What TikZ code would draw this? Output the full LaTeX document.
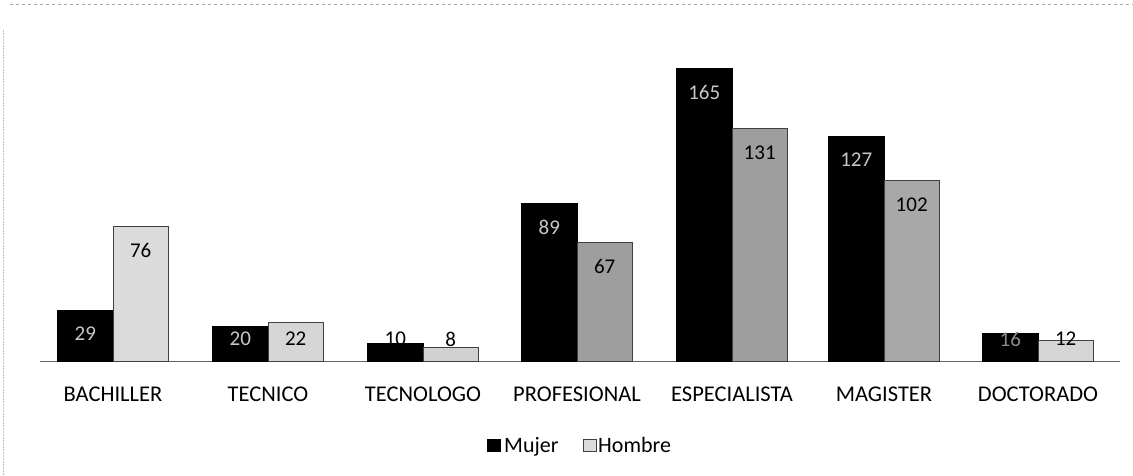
\documentclass[tikz,border=0pt]{standalone}
\usepackage{fontspec}
\setmainfont{Carlito}
\begin{document}
\begin{tikzpicture}[x=1pt,y=-1pt,
  mbar/.style={fill=black,draw=black,line width=0.6pt},
  hbar/.style={draw=black!75,line width=0.8pt},
  vlab/.style={font=\fontsize{21}{24}\selectfont,inner sep=0pt,anchor=center},
  catlab/.style={font=\fontsize{22.5}{26}\selectfont,inner sep=0pt,anchor=center},
  leglab/.style={font=\fontsize{22}{26}\selectfont,inner sep=0pt,anchor=base west}]
\useasboundingbox (0,0) rectangle (1133,476);
\fill[white] (0,0) rectangle (1133,476);
% scan border lines
\draw[black!35,dashed,line width=0.6pt] (10,4) -- (1133,4);
\draw[black!25,densely dotted,line width=0.5pt] (3,30) -- (3,476);
% axis
\coordinate (axL) at (40,361.5);
\coordinate (axR) at (1120,361.5);
\draw[black!60,line width=0.8pt] (axL) -- (axR);
\foreach \idx/\cx/\cat/\mv/\hv/\hf/\mc in {
  1/113/BACHILLER/29/76/black!14/black!22,
  2/268/TECNICO/20/22/black!16/black!22,
  3/423/TECNOLOGO/10/8/black!18/black,
  4/577/PROFESIONAL/89/67/black!38/black!22,
  5/732/ESPECIALISTA/165/131/black!38/black!22,
  6/884/MAGISTER/127/102/black!34/black!22,
  7/1038/DOCTORADO/16/12/black!16/black!45}{
  \pgfmathsetmacro{\mtop}{361.5-\mv*1.776}
  \pgfmathsetmacro{\htop}{361.5-\hv*1.776}
  \pgfmathsetmacro{\mlab}{min(\mtop+24,339)}
  \pgfmathsetmacro{\hlab}{min(\htop+24,339)}
  \draw[mbar] (\cx-55.5,361.5) rectangle (\cx,\mtop);
  \draw[hbar,fill=\hf] (\cx,361.5) rectangle (\cx+55.5,\htop);
  \node[vlab,text=\mc] (m\idx) at (\cx-27.7,\mlab) {\mv};
  \node[vlab,text=black] (h\idx) at (\cx+27.7,\hlab) {\hv};
  \node[catlab] (cat\idx) at (\cx,394) {\cat};
}
% legend
\node[draw=black,fill=black,minimum size=12.5pt,inner sep=0pt] (lm) at (493.5,445) {};
\node[leglab] (lmt) at (504,452) {Mujer};
\node[draw=black!75,fill=black!14,minimum size=12.5pt,inner sep=0pt] (lh) at (589.5,445) {};
\node[leglab] (lht) at (598,452) {Hombre};
\end{tikzpicture}
\end{document}
